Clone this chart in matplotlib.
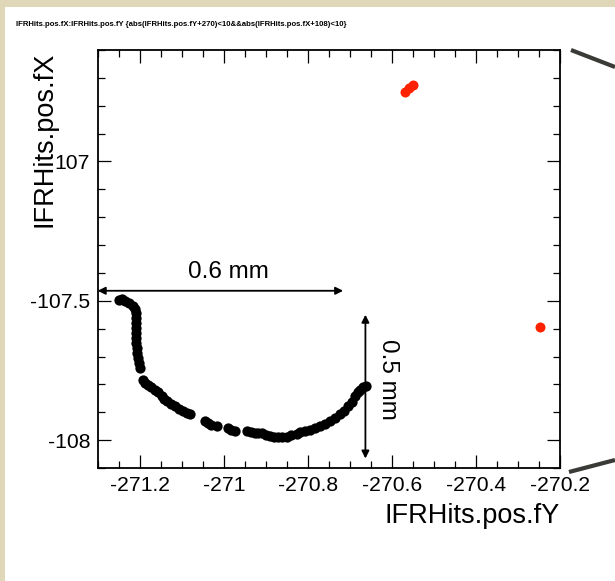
"""
IFRHits — pos.fX vs pos.fY (ROOT-style scatter, black track + red hits)
"""

import matplotlib
matplotlib.use("Agg")
import matplotlib.pyplot as plt
from matplotlib.lines import Line2D
from matplotlib.patches import Rectangle
from matplotlib.ticker import MultipleLocator, FixedLocator, FixedFormatter

plt.rcParams["font.family"] = ["Liberation Sans", "DejaVu Sans"]

# ── Data ─────────────────────────────────────────────────────────────────────
track_fy = [
    -271.249, -271.242, -271.235, -271.225, -271.216, -271.211, -271.209,
    -271.208, -271.208, -271.209, -271.209, -271.209, -271.208, -271.207,
    -271.206, -271.204, -271.202, -271.199,
    -271.192, -271.187, -271.180, -271.173, -271.164, -271.156, -271.148,
    -271.142, -271.136, -271.126, -271.116, -271.106, -271.097, -271.087,
    -271.080,
    -271.045, -271.037, -271.030, -271.017,
    -270.990, -270.983, -270.973,
    -270.945, -270.935, -270.925, -270.918, -270.910, -270.899, -270.890,
    -270.880, -270.871, -270.861, -270.850, -270.840, -270.826, -270.818,
    -270.806, -270.795, -270.783, -270.771, -270.759, -270.747, -270.735,
    -270.723, -270.714, -270.704, -270.696, -270.687, -270.681, -270.676,
    -270.668, -270.661,
]
track_fx = [
    -107.496, -107.492, -107.500, -107.507, -107.518, -107.528, -107.543,
    -107.561, -107.578, -107.596, -107.614, -107.632, -107.650, -107.668,
    -107.686, -107.704, -107.722, -107.740,
    -107.783, -107.794, -107.801, -107.808, -107.819, -107.829, -107.843,
    -107.851, -107.861, -107.869, -107.879, -107.887, -107.896, -107.903,
    -107.908,
    -107.932, -107.937, -107.944, -107.951,
    -107.958, -107.962, -107.966,
    -107.969, -107.971, -107.973, -107.975, -107.976, -107.982, -107.986,
    -107.988, -107.990, -107.989, -107.987, -107.982, -107.978, -107.971,
    -107.966, -107.962, -107.957, -107.950, -107.942, -107.932, -107.921,
    -107.908, -107.894, -107.879, -107.862, -107.843, -107.829, -107.819,
    -107.811, -107.807,
]

red_fy = [-270.568, -270.559, -270.549, -270.247]
red_fx = [-106.749, -106.737, -106.725, -107.594]

ytick_vals   = [-108.0, -107.5, -107.0]
ytick_labels = ["-108", "-107.5", "107"]
xtick_vals   = [-271.2, -271.0, -270.8, -270.6, -270.4, -270.2]
xtick_labels = ["-271.2", "-271", "-270.8", "-270.6", "-270.4", "-270.2"]

# measurement arrows: (start, end) in data coords
hbar_fy = [-271.3, -270.716]
hbar_fx = -107.464
vbar_fy = -270.663
vbar_fx = [-107.550, -108.066]

TITLE = ("IFRHits.pos.fX:IFRHits.pos.fY "
         "{abs(IFRHits.pos.fY+270)<10&&abs(IFRHits.pos.fX+108)<10}")

# ── Figure ───────────────────────────────────────────────────────────────────
W, H = 615, 581
fig = plt.figure(figsize=(W / 100, H / 100), dpi=100)
fig.patch.set_facecolor("#dfd7b8")
fig.patches.append(Rectangle((5 / W, 0), 1 - 5 / W, (H - 7) / H,
                             transform=fig.transFigure, facecolor="white",
                             edgecolor="none", zorder=-10))

ax = fig.add_axes([97.7 / W, (H - 468) / H, (560 - 97.7) / W, (468 - 50) / H])
ax.set_facecolor("white")
ax.set_zorder(1)

ax.plot(track_fy, track_fx, "o", color="black", markersize=7.4,
        markeredgewidth=0, zorder=3)
ax.plot(red_fy, red_fx, "o", color="#ff2200", markersize=7.2,
        markeredgewidth=0, zorder=3)

ax.set_xlim(-271.3, -270.2)
ax.set_ylim(-108.1, -106.6)

# ROOT-like ticks: inward, on all four sides
ax.xaxis.set_major_locator(FixedLocator(xtick_vals))
ax.xaxis.set_major_formatter(FixedFormatter(xtick_labels))
ax.xaxis.set_minor_locator(MultipleLocator(0.05))
ax.yaxis.set_major_locator(FixedLocator(ytick_vals))
ax.yaxis.set_major_formatter(FixedFormatter(ytick_labels))
ax.yaxis.set_minor_locator(MultipleLocator(0.1))
ax.tick_params(which="both", direction="in", top=True, right=True,
               width=0.9, color="black")
ax.tick_params(which="major", length=9.4, labelsize=15.2, pad=5.5)
ax.tick_params(which="minor", length=5)
for sp in ax.spines.values():
    sp.set_linewidth(1.3)

# ── Measurement arrows ───────────────────────────────────────────────────────
arrow_kw = dict(arrowstyle="<|-|>", color="black", lw=1.3,
                mutation_scale=11, shrinkA=0, shrinkB=0)
ax.annotate("", xy=(hbar_fy[1], hbar_fx), xytext=(hbar_fy[0], hbar_fx),
            arrowprops=arrow_kw, annotation_clip=False, zorder=4)
ax.annotate("", xy=(vbar_fy, vbar_fx[1]), xytext=(vbar_fy, vbar_fx[0]),
            arrowprops=arrow_kw, annotation_clip=False, zorder=4)
ax.text(-270.990, -107.396, "0.6 mm", ha="center", va="center", fontsize=17.5)
ax.text(-270.609, -107.783, "0.5 mm", ha="center", va="center",
        fontsize=17.5, rotation=270)

# ── Titles ───────────────────────────────────────────────────────────────────
fig.text(16 / W, (H - 25) / H, TITLE, ha="left", va="center",
         fontsize=5.6, fontweight="bold")
fig.text(560 / W, (H - 523) / H, "IFRHits.pos.fY", ha="right",
         va="baseline", fontsize=19.5)
fig.text(45 / W, (H - 52) / H, "IFRHits.pos.fX", ha="center", va="top",
         rotation=90, fontsize=19.5, zorder=5)

# callout lines to the right of the frame
for x0, y0, x1, y1 in [(571, 50, 615, 67), (569, 472, 615, 460)]:
    fig.add_artist(Line2D([x0 / W, x1 / W], [(H - y0) / H, (H - y1) / H],
                          transform=fig.transFigure, color="#3a3a36",
                          lw=3, solid_capstyle="butt"))

fig.savefig("out.png", dpi=100)
plt.close(fig)
